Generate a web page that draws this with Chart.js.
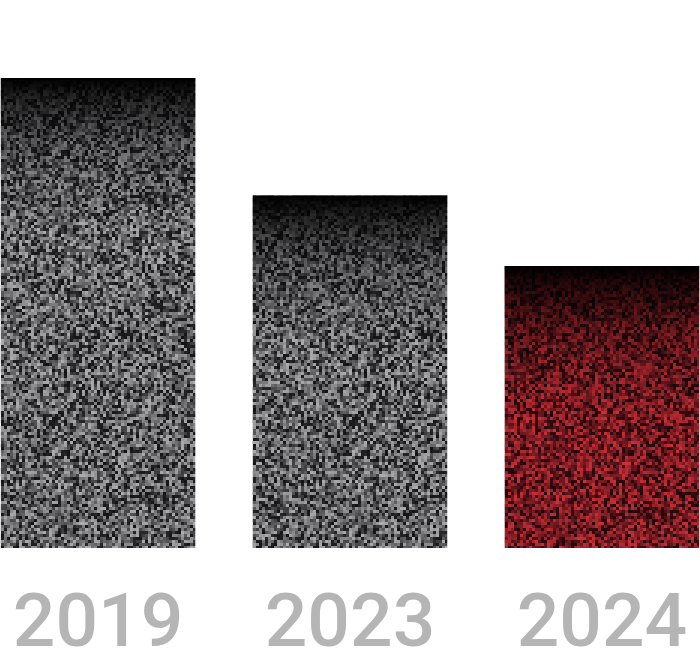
<!DOCTYPE html>
<html>
<head>
<meta charset="utf-8">
<script src="https://cdn.jsdelivr.net/npm/chart.js@4"></script>
<style>
  html, body { margin: 0; padding: 0; background: #fff; overflow: hidden; }
  #wrap { position: absolute; left: -29px; top: 0; width: 758px; height: 650px; }
</style>
</head>
<body>
<div id="wrap"><canvas id="grafica" width="758" height="650"></canvas></div>
<script>
const years = ['2019', '2023', '2024'];
const values = [100, 75, 60];
const tints = ['gray', 'gray', 'red'];

// small seeded generator, used only for the grain texture
let seed = 12345;
function rnd() {
  seed = (seed * 1103515245 + 12345) % 2147483648;
  return seed / 2147483648;
}

function crearGrano(tipo) {
  const c = document.createElement('canvas');
  c.width = 300; c.height = 300;
  const g = c.getContext('2d');
  const cell = 3;
  for (let y = 0; y < c.height; y += cell) {
    for (let x = 0; x < c.width; x += cell) {
      let t = rnd();
      if (t < 0.25) t = t * 0.6;
      let col;
      if (tipo === 'red') {
        col = 'rgb(' + Math.round(30 + t * 175) + ',' + Math.round(6 + t * 40) + ',' + Math.round(10 + t * 45) + ')';
      } else {
        const v = Math.round(18 + t * 155);
        col = 'rgb(' + v + ',' + v + ',' + (v + 3) + ')';
      }
      g.fillStyle = col;
      g.fillRect(x, y, cell, cell);
    }
  }
  return c;
}

const ctx = document.getElementById('grafica').getContext('2d');
const granoGris = ctx.createPattern(crearGrano('gray'), 'repeat');
const granoRojo = ctx.createPattern(crearGrano('red'), 'repeat');

const sombraArriba = {
  id: 'sombraArriba',
  afterDatasetsDraw(chart) {
    const c = chart.ctx;
    chart.getDatasetMeta(0).data.forEach(bar => {
      const h = 150;
      const grad = c.createLinearGradient(0, bar.y, 0, bar.y + h);
      grad.addColorStop(0, 'rgba(0,0,0,1)');
      grad.addColorStop(0.1, 'rgba(0,0,0,0.8)');
      grad.addColorStop(0.45, 'rgba(0,0,0,0.3)');
      grad.addColorStop(1, 'rgba(0,0,0,0)');
      c.save();
      c.fillStyle = grad;
      c.fillRect(bar.x - bar.width / 2, bar.y, bar.width, Math.min(h, bar.base - bar.y));
      c.restore();
    });
  }
};

new Chart(ctx, {
  type: 'bar',
  data: {
    labels: years,
    datasets: [
      {
        data: values,
        backgroundColor: tints.map(t => t === 'red' ? granoRojo : granoGris),
        borderWidth: 0,
        barPercentage: 0.772,
        categoryPercentage: 1
      }
    ]
  },
  options: {
    responsive: false,
    devicePixelRatio: 1,
    animation: false,
    layout: {
      padding: { top: 78, left: 0, right: 0, bottom: -57 }
    },
    scales: {
      y: {
        display: false,
        min: 0,
        max: 100
      },
      x: {
        grid: { display: false, drawTicks: false },
        border: { display: false },
        ticks: {
          color: '#b5b5b5',
          padding: 42,
          maxRotation: 0,
          font: { family: 'Roboto', size: 75, weight: 500, lineHeight: 1 }
        }
      }
    },
    plugins: {
      legend: { display: false },
      tooltip: { enabled: false }
    }
  },
  plugins: [sombraArriba]
});
</script>
</body>
</html>
